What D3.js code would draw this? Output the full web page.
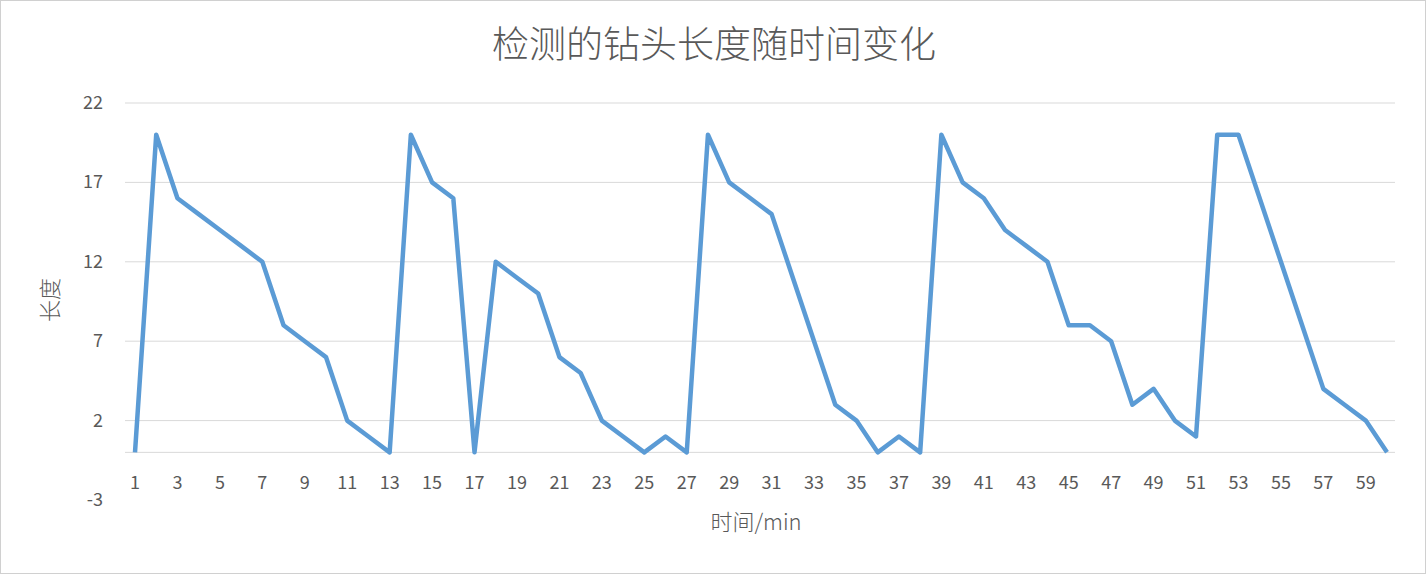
<!DOCTYPE html><html><head><meta charset="utf-8">
<script src="https://cdn.jsdelivr.net/npm/d3@7"></script>
<style>body{margin:0;background:#fff}svg{display:block}</style></head><body>
<svg id="c" width="1426" height="574"></svg>
<script>
const title="检测的钻头长度随时间变化";
const xTitle="时间/min", yTitle="长度";
const minutes=d3.range(1,61);
const lengths=[0,20,16,15,14,13,12,8,7,6,2,1,0,20,17,16,0,12,11,10,6,5,2,1,0,1,0,20,17,16,15,11,7,3,2,0,1,0,20,17,16,14,13,12,8,8,7,3,4,2,1,20,20,16,12,8,4,3,2,0];
const yTicks=[-3,2,7,12,17,22];
const svg=d3.select("#c");
svg.append("rect").attr("x",0.5).attr("y",0.5).attr("width",1425).attr("height",573).attr("fill","#fff").attr("stroke","#d0d0d0");
const x=d3.scaleLinear().domain([1,60]).range([135,1387]);
const y=d3.scaleLinear().domain([-3,22]).range([500,103]);
const f="'Noto Sans CJK SC','Noto Sans',sans-serif";
svg.append("g").selectAll("line").data(yTicks.filter(t=>t>-3)).join("line")
 .attr("x1",125).attr("x2",1395).attr("y1",d=>y(d)).attr("y2",d=>y(d)).attr("stroke","#d9d9d9").attr("stroke-width",1);
svg.append("line").attr("x1",125).attr("x2",1395).attr("y1",y(0)).attr("y2",y(0)).attr("stroke","#d9d9d9");
svg.append("g").selectAll("text").data(yTicks).join("text").attr("x",103).attr("y",d=>y(d)+6)
 .attr("text-anchor","end").attr("font-size",18).attr("fill","#595959").attr("font-family",f).text(d=>d);
svg.append("g").selectAll("text").data(minutes.filter(m=>m%2==1)).join("text").attr("x",d=>x(d)).attr("y",489)
 .attr("text-anchor","middle").attr("font-size",18).attr("fill","#595959").attr("font-family",f).text(d=>d);
svg.append("path").datum(lengths).attr("fill","none").attr("stroke","#5b9bd5").attr("stroke-width",4.5).attr("stroke-linejoin","round")
 .attr("d",d3.line().x((d,i)=>x(minutes[i])).y(d=>y(d)));
svg.append("text").attr("x",714).attr("y",58).attr("text-anchor","middle").attr("font-size",37).attr("font-weight",300).attr("fill","#595959").attr("font-family",f).text(title);
svg.append("text").attr("x",756).attr("y",530).attr("text-anchor","middle").attr("font-size",22).attr("font-weight",300).attr("fill","#595959").attr("font-family",f).text(xTitle);
svg.append("text").attr("transform","translate(58,300) rotate(-90)").attr("text-anchor","middle").attr("font-size",22).attr("font-weight",300).attr("fill","#595959").attr("font-family",f).text(yTitle);
</script></body></html>
